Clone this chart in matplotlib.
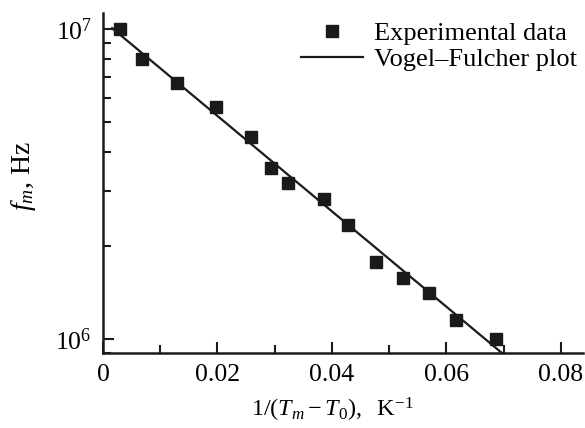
import matplotlib
matplotlib.use("Agg")
import matplotlib.pyplot as plt
from matplotlib.ticker import LogLocator, MultipleLocator, FixedLocator, NullFormatter

plt.rcParams['font.family'] = ['Liberation Serif', 'DejaVu Serif']
plt.rcParams['mathtext.fontset'] = 'custom'
plt.rcParams['mathtext.rm'] = 'Liberation Serif'
plt.rcParams['mathtext.it'] = 'Liberation Serif:italic'
plt.rcParams['mathtext.cal'] = 'Liberation Serif:italic'

# Data
inv_dT = [0.0030, 0.0068, 0.0130, 0.0197, 0.0259, 0.0294, 0.0323, 0.0386,
          0.0428, 0.0477, 0.0525, 0.0570, 0.0616, 0.0687]
f_m = [1.00e7, 8.0e6, 6.70e6, 5.60e6, 4.49e6, 3.57e6, 3.18e6, 2.83e6,
       2.33e6, 1.77e6, 1.57e6, 1.41e6, 1.15e6, 1.00e6]
fit_x = [0.0016, 0.0697]
fit_y = [1.007e7, 9.0e5]

fig = plt.figure(figsize=(5.85, 4.28), dpi=100)
ax = fig.add_axes([0.176, 0.1752, 0.82, 0.7944])

ax.semilogy(fit_x, fit_y, color='#1a1a1a', lw=1.6, label='Vogel–Fulcher plot', zorder=2)
ax.semilogy(inv_dT, f_m, 's', color='#1a1a1a', ms=8, ls='none', label='Experimental data', zorder=3)

ax.set_xlim(0, 0.0838)
ax.set_ylim(9.0e5, 1.127e7)

for s in ['top', 'right']:
    ax.spines[s].set_visible(False)
for s in ['left', 'bottom']:
    ax.spines[s].set_linewidth(1.8)
    ax.spines[s].set_color('#1a1a1a')

ax.xaxis.set_minor_locator(MultipleLocator(0.01))
ax.set_xticks([0, 0.02, 0.04, 0.06, 0.08])
ax.set_xticklabels(['0', '0.02', '0.04', '0.06', '0.08'])
ax.yaxis.set_major_locator(FixedLocator([1e6, 1e7]))
ax.set_yticklabels([r'$10^6$', r'$10^7$'])
ax.yaxis.set_minor_locator(LogLocator(base=10, subs=range(2, 10)))
ax.yaxis.set_minor_formatter(NullFormatter())

ax.tick_params(which='major', direction='in', length=8, width=1.5, labelsize=18.5, color='#1a1a1a', pad=8)
ax.tick_params(which='minor', direction='in', length=6, width=1.5, color='#1a1a1a')

ax.set_xlabel(r'$1/(T_m - T_0),\ \ \mathrm{K}^{-1}$', fontsize=17.5)
ax.xaxis.set_label_coords(0.478, -0.125)
ax.set_ylabel(r'$f_m$, Hz', fontsize=20)
ax.yaxis.set_label_coords(-0.135, 0.52)

handles, labels = ax.get_legend_handles_labels()
fig.legend(handles[::-1], labels[::-1], loc='upper left', frameon=False, fontsize=19,
           handlelength=2.35, handletextpad=0.42, labelspacing=0.08,
           bbox_to_anchor=(301 / 585, 1 - 22 / 428), borderaxespad=0, borderpad=0)

fig.savefig('out.png', dpi=100)
